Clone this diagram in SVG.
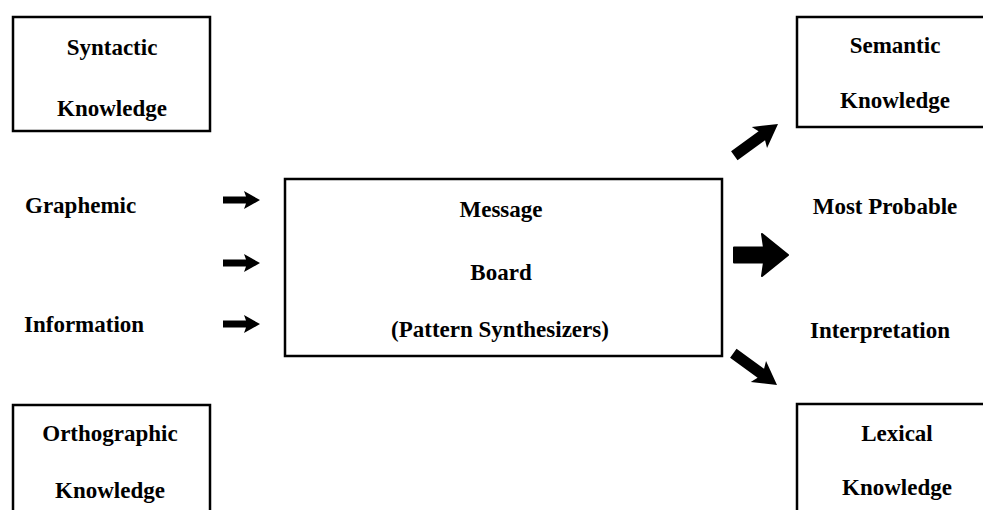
<svg xmlns="http://www.w3.org/2000/svg" width="983" height="510" viewBox="0 0 983 510">
<style>
.box{fill:#fff;stroke:#000;stroke-width:2.5}
.t{font-family:"Liberation Serif","Times New Roman",serif;font-weight:bold;font-size:23px;fill:#000;text-anchor:middle}
.l{font-family:"Liberation Serif","Times New Roman",serif;font-weight:bold;font-size:23px;fill:#000}
.a{fill:#000}
</style>
<defs>
<path id="sa" d="M-37,-3.5 L-14,-3.5 L-16,-9 L0,0 L-16,9 L-14,3.5 L-37,3.5 Z"/>
<path id="ma" d="M-54,-5.5 L-20,-5.5 L-23,-13 L0,0 L-23,13 L-20,5.5 L-54,5.5 Z"/>
<path id="ba" d="M-54,-7.5 L-24,-7.5 L-26,-21 L0,0 L-26,21 L-24,7.5 L-54,7.5 Z" stroke="#000" stroke-width="2" stroke-linejoin="round"/>
</defs>
<rect width="983" height="510" fill="#fff"/>
<g id="syntactic">
<rect class="box" x="13" y="17" width="197" height="114"/>
<text class="t" x="112" y="55">Syntactic</text>
<text class="t" x="112" y="116">Knowledge</text>
</g>
<g id="semantic">
<rect class="box" x="797" y="17" width="200" height="110"/>
<text class="t" x="895" y="53">Semantic</text>
<text class="t" x="895" y="108">Knowledge</text>
</g>
<g id="graphemic-info">
<text class="l" x="25" y="213">Graphemic</text>
<text class="l" x="24" y="332">Information</text>
</g>
<g id="message-board">
<rect class="box" x="285" y="179" width="437" height="177"/>
<text class="t" x="501" y="217">Message</text>
<text class="t" x="501" y="280">Board</text>
<text class="t" x="500" y="337">(Pattern Synthesizers)</text>
</g>
<g id="interpretation">
<text class="t" x="885" y="214">Most Probable</text>
<text class="t" x="880" y="338">Interpretation</text>
</g>
<g id="orthographic">
<rect class="box" x="13" y="405" width="197" height="120"/>
<text class="t" x="110" y="441">Orthographic</text>
<text class="t" x="110" y="498">Knowledge</text>
</g>
<g id="lexical">
<rect class="box" x="797" y="404" width="200" height="120"/>
<text class="t" x="897" y="441">Lexical</text>
<text class="t" x="897" y="495">Knowledge</text>
</g>
<g id="connectors" class="a">
<use href="#sa" transform="translate(260,200)"/>
<use href="#sa" transform="translate(260,263)"/>
<use href="#sa" transform="translate(260,324)"/>
<use href="#ma" transform="translate(778,124) rotate(-36)"/>
<use href="#ba" transform="translate(788,255)"/>
<use href="#ma" transform="translate(777,385) rotate(36)"/>
</g>
</svg>
